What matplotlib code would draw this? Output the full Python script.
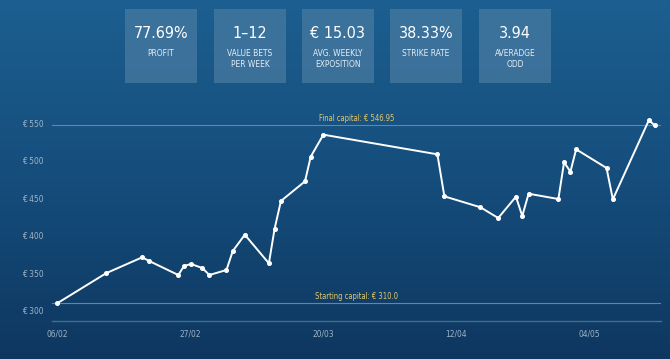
import numpy as np
import matplotlib
matplotlib.use('Agg')
import matplotlib.pyplot as plt
from matplotlib.colors import LinearSegmentedColormap
from matplotlib.patches import Rectangle

# Summary boxes
stat_values = ['77.69%', '1\u201312', '\u20ac 15.03', '38.33%', '3.94']
stat_labels = ['PROFIT', 'VALUE BETS\nPER WEEK', 'AVG. WEEKLY\nEXPOSITION', 'STRIKE RATE', 'AVERADGE\nODD']

# Capital curve, x = days since 06/02
days = [0, 7.7, 13.4, 14.4, 19.1, 20.0, 21.1, 22.9, 24.0, 26.7, 27.7, 29.6,
        33.4, 34.3, 35.3, 39.1, 40.0, 42.0, 60.0, 61.1, 66.8, 69.6, 72.4,
        73.4, 74.4, 79.1, 80.0, 81.0, 81.9, 86.7, 87.7, 93.4, 94.3]
capital = [310.0, 350.0, 371.2, 366.7, 347.6, 359.6, 362.3, 356.9, 347.6, 354.3,
           379.6, 401.3, 363.2, 409.3, 446.3, 472.5, 505.3, 534.7, 508.5, 452.5,
           437.9, 423.6, 452.0, 426.3, 456.0, 448.9, 497.9, 485.3, 515.2, 490.3,
           448.5, 554.3, 546.95]
start_capital = 310.0
final_capital = 546.95

x_ticks = [0, 21, 42, 63, 84]
x_labels = ['06/02', '27/02', '20/03', '12/04', '04/05']
y_ticks = [300, 350, 400, 450, 500, 550]

W, H = 670, 359
fig = plt.figure(figsize=(W / 100, H / 100), dpi=100)

# background gradient
bg = fig.add_axes([0, 0, 1, 1])
bg.set_axis_off()
cmap = LinearSegmentedColormap.from_list('bg', ['#1c5f90', '#154d7c', '#0e3760'])
grad = np.linspace(0, 1, 256).reshape(-1, 1)
bg.imshow(grad, cmap=cmap, aspect='auto', extent=[0, W, H, 0])
bg.set_xlim(0, W)
bg.set_ylim(H, 0)

txt = dict(family='DejaVu Sans', fontstretch='condensed')

# stat boxes
box_left = [125, 214, 302, 390, 479]
for x0, val, lab in zip(box_left, stat_values, stat_labels):
    bg.add_patch(Rectangle((x0, 8.5), 72, 74, facecolor='#4a7ca2', alpha=0.7,
                           edgecolor='none'))
    bg.text(x0 + 36, 33, val, color='white', fontsize=11.5, ha='center', va='center', **txt)
    bg.text(x0 + 36, 48.5, lab, color='#e6eef5', fontsize=6, ha='center', va='top',
            linespacing=1.3, **txt)

# chart
ax = fig.add_axes([52 / W, (H - 321) / H, (661 - 52) / W, (321 - 110) / H])
ax.patch.set_alpha(0)
ax.plot(days, capital, color='white', lw=1.4, marker='o', ms=2.6, zorder=3)

line_col = '#5d87ab'
ax.axhline(start_capital, color=line_col, lw=0.8, zorder=1)
ax.axhline(final_capital, color=line_col, lw=0.8, zorder=1)
xmid = (-0.84 + 95.3) / 2
ax.text(xmid, start_capital + 3, 'Starting capital: \u20ac %.1f' % start_capital,
        color='#e3c96a', fontsize=5.5, ha='center', va='bottom', **txt)
ax.text(xmid, final_capital + 3, 'Final capital: \u20ac %.2f' % final_capital,
        color='#e3c96a', fontsize=5.5, ha='center', va='bottom', **txt)

ax.set_xlim(-0.84, 95.3)
ax.set_ylim(286.3, 567.6)
ax.set_xticks(x_ticks)
ax.set_xticklabels(x_labels)
ax.set_yticks(y_ticks)
ax.set_yticklabels(['\u20ac %d' % v for v in y_ticks])
ax.tick_params(length=0, colors='#9fb3c6', labelsize=6, pad=6)
for lab in ax.get_xticklabels() + ax.get_yticklabels():
    lab.set_fontstretch('condensed')
for s in ['top', 'right', 'left']:
    ax.spines[s].set_visible(False)
ax.spines['bottom'].set_color('#3f6f97')
ax.spines['bottom'].set_linewidth(1.0)

fig.savefig('out.png', dpi=100)
